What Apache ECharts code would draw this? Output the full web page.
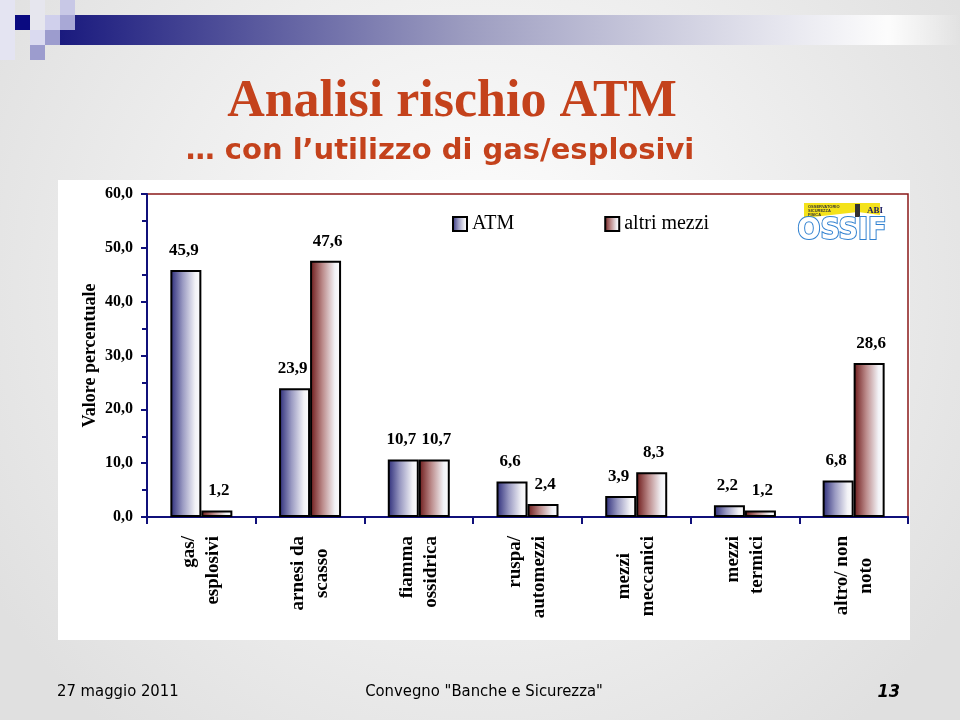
<!DOCTYPE html>
<html>
<head>
<meta charset="utf-8">
<script src="https://cdn.jsdelivr.net/npm/echarts@6/dist/echarts.min.js"></script>
<style>
html,body{margin:0;padding:0;background:#fff;}
#chart{width:960px;height:720px;}
</style>
</head>
<body>
<div id="chart"></div>
<script>
// ---- data ----
var categories = ['gas/\nesplosivi', 'arnesi da\nscasso', 'fiamma\nossidrica', 'ruspa/\nautomezzi', 'mezzi\nmeccanici', 'mezzi\ntermici', 'altro/ non\nnoto'];
var centeredLabels = [false, true, false, false, true, false, true];
var seriesNames = ['ATM', 'altri mezzi'];
var atmValues = [45.9, 23.9, 10.7, 6.6, 3.9, 2.2, 6.8];
var altriValues = [1.2, 47.6, 10.7, 2.4, 8.3, 1.2, 28.6];
var yMin = 0, yMax = 60, yInterval = 10;

var titleText = 'Analisi rischio ATM';
var subtitleText = '\u2026 con l\u2019utilizzo di gas/esplosivi';
var yAxisName = 'Valore percentuale';
var footerLeft = '27 maggio 2011';
var footerCenter = 'Convegno "Banche e Sicurezza"';
var footerRight = '13';

// ---- styles ----
var NAVY = '#10107a';
var SERIF = '"Liberation Serif", "Times New Roman", serif';
var SANS = '"Liberation Sans", Arial, sans-serif';
var NARROW = '"DejaVu Sans Condensed", "Liberation Sans Narrow", "Arial Narrow", sans-serif';
function comma(v) { return Number(v).toFixed(1).replace('.', ','); }
function grad(c0, c1) {
  return new echarts.graphic.LinearGradient(0, 0, 1, 0, [
    {offset: 0, color: c0}, {offset: 0.4, color: c1}, {offset: 0.8, color: '#f2f2f6'}, {offset: 1, color: '#ffffff'}
  ]);
}

var chart = echarts.init(document.getElementById('chart'), null, {renderer: 'canvas'});

function barLabel(dx) {
  return {
    show: true, position: 'top', distance: 11, offset: [dx, 0],
    fontFamily: SERIF, fontWeight: 'bold', fontSize: 17, color: '#000',
    formatter: function (p) { return comma(p.value); }
  };
}

var catLabelStyle = {fontFamily: SERIF, fontWeight: 'bold', fontSize: 19, color: '#000', lineHeight: 24};

var option = {
  animation: false,
  backgroundColor: 'transparent',
  graphic: {
    elements: [
      // slide background
      {type: 'rect', z: -100, shape: {x: 0, y: 0, width: 960, height: 720},
        style: {fill: new echarts.graphic.RadialGradient(0.5, 0.4, 0.8, [{offset: 0, color: '#ffffff'}, {offset: 1, color: '#e0e0e0'}])}},
      // top decoration
      {type: 'rect', z: -90, shape: {x: 0, y: 0, width: 15, height: 60}, style: {fill: '#e4e4f2'}},
      {type: 'rect', z: -90, shape: {x: 30, y: 0, width: 15, height: 30}, style: {fill: '#e6e6ee'}},
      {type: 'rect', z: -90, shape: {x: 60, y: 0, width: 15, height: 15}, style: {fill: '#c8c8e6'}},
      {type: 'rect', z: -89, shape: {x: 60, y: 15, width: 900, height: 30},
        style: {fill: new echarts.graphic.LinearGradient(0, 0, 1, 0, [{offset: 0, color: '#1a1a7e'}, {offset: 0.45, color: '#9c9cc0'}, {offset: 0.92, color: 'rgba(255,255,255,0.9)'}, {offset: 1, color: 'rgba(255,255,255,0)'}])}},
      {type: 'rect', z: -88, shape: {x: 60, y: 15, width: 15, height: 15}, style: {fill: '#a8a8d6'}},
      {type: 'rect', z: -88, shape: {x: 45, y: 15, width: 15, height: 15}, style: {fill: '#d0d0ec'}},
      {type: 'rect', z: -88, shape: {x: 15, y: 15, width: 15, height: 15}, style: {fill: '#0a0a80'}},
      {type: 'rect', z: -88, shape: {x: 30, y: 30, width: 15, height: 15}, style: {fill: '#dadaf0'}},
      {type: 'rect', z: -88, shape: {x: 45, y: 30, width: 15, height: 15}, style: {fill: '#9c9cce'}},
      {type: 'rect', z: -88, shape: {x: 30, y: 45, width: 15, height: 15}, style: {fill: '#9c9cce'}},
      // chart panel
      {type: 'rect', z: -80, shape: {x: 58, y: 180, width: 852, height: 460}, style: {fill: '#ffffff'}},
      // titles
      {type: 'text', z: 10, x: 452, y: 103, style: {text: titleText, fontFamily: SERIF, fontWeight: 'bold', fontSize: 52, fill: '#c4421c', align: 'center', verticalAlign: 'middle'}},
      {type: 'text', z: 10, x: 440, y: 151, style: {text: subtitleText, fontFamily: '"DejaVu Sans", Verdana, sans-serif', fontWeight: 'bold', fontSize: 29, fill: '#c4421c', align: 'center', verticalAlign: 'middle'}},
      // logo
      {type: 'polygon', z: 10, shape: {points: [[804, 203], [880, 203], [880, 215], [858, 212], [804, 218]]}, style: {fill: '#f4e21a'}},
      {type: 'text', z: 11, x: 808, y: 205, style: {text: 'OSSERVATORIO\nSICUREZZA\nFISICA', fontFamily: SANS, fontWeight: 'bold', fontSize: 4, lineHeight: 4, fill: '#333'}},
      {type: 'rect', z: 11, shape: {x: 855, y: 204, width: 5, height: 13}, style: {fill: '#333'}},
      {type: 'text', z: 11, x: 867, y: 206, style: {text: 'ABI', fontFamily: SERIF, fontWeight: 'bold', fontSize: 9, fill: '#1a1a60'}},
      {type: 'text', z: 11, x: 842, y: 231, style: {text: 'OSSIF', fontFamily: NARROW, fontWeight: 'bold', fontSize: 30, fill: '#ffffff', stroke: '#2f80d0', lineWidth: 2, align: 'center', verticalAlign: 'middle'}},
      // footer
      {type: 'text', z: 10, x: 57, y: 692, style: {text: footerLeft, fontFamily: NARROW, fontSize: 16.5, fill: '#000', verticalAlign: 'middle'}},
      {type: 'text', z: 10, x: 484, y: 692, style: {text: footerCenter, fontFamily: NARROW, fontSize: 16.5, fill: '#000', align: 'center', verticalAlign: 'middle'}},
      {type: 'text', z: 10, x: 900, y: 692, style: {text: footerRight, fontFamily: NARROW, fontWeight: 'bold', fontStyle: 'italic', fontSize: 18, fill: '#000', align: 'right', verticalAlign: 'middle'}}
    ]
  },
  legend: {
    data: seriesNames,
    left: 452, top: 214, padding: 0,
    itemWidth: 14, itemHeight: 14, itemGap: 90,
    icon: 'rect',
    textStyle: {fontFamily: SERIF, fontSize: 20, color: '#000'},
    itemStyle: {borderColor: '#000', borderWidth: 2}
  },
  grid: {
    left: 147, right: 52, top: 194, bottom: 203,
    containLabel: false, outerBoundsMode: 'none',
    show: true, backgroundColor: 'transparent', borderColor: '#8b1a1a', borderWidth: 1.5
  },
  xAxis: {
    type: 'category',
    data: categories,
    boundaryGap: true,
    axisLine: {show: true, lineStyle: {color: NAVY, width: 2}},
    axisTick: {show: true, length: 7, lineStyle: {color: NAVY, width: 2}},
    splitLine: {show: false},
    axisLabel: {
      show: true, rotate: 90, margin: 19, interval: 0,
      fontFamily: SERIF, fontWeight: 'bold', fontSize: 19, color: '#000', lineHeight: 24,
      formatter: function (v, i) {
        var tag = centeredLabels[i] ? 'c' : 'r';
        return v.split('\n').map(function (s) { return '{' + tag + '|' + s + '}'; }).join('\n');
      },
      rich: {
        c: Object.assign({align: 'center'}, catLabelStyle),
        r: Object.assign({align: 'right'}, catLabelStyle)
      }
    }
  },
  yAxis: {
    type: 'value',
    min: yMin, max: yMax, interval: yInterval,
    name: yAxisName, nameLocation: 'middle', nameGap: 48, nameRotate: 90, nameMoveOverlap: false,
    nameTextStyle: {fontFamily: SERIF, fontWeight: 'bold', fontSize: 18, color: '#000'},
    axisLine: {show: true, lineStyle: {color: NAVY, width: 2}},
    axisTick: {show: true, length: 6, lineStyle: {color: NAVY, width: 2}},
    minorTick: {show: true, splitNumber: 2, length: 5, lineStyle: {color: NAVY, width: 2}},
    splitLine: {show: false},
    minorSplitLine: {show: false},
    axisLabel: {
      show: true, margin: 14,
      fontFamily: SERIF, fontWeight: 'bold', fontSize: 16, color: '#000',
      formatter: function (v) { return comma(v); }
    }
  },
  series: [
    {
      name: seriesNames[0], type: 'bar', data: atmValues,
      barWidth: 31, barGap: '0%',
      itemStyle: {color: grad('#2a2a78', '#9a9ac2'), borderColor: '#000', borderWidth: 2},
      label: barLabel(-2)
    },
    {
      name: seriesNames[1], type: 'bar', data: altriValues,
      barWidth: 31, barGap: '0%',
      itemStyle: {color: grad('#6a1616', '#bb8a8a'), borderColor: '#000', borderWidth: 2},
      label: barLabel(2)
    }
  ]
};
chart.setOption(option);
</script>
</body>
</html>
